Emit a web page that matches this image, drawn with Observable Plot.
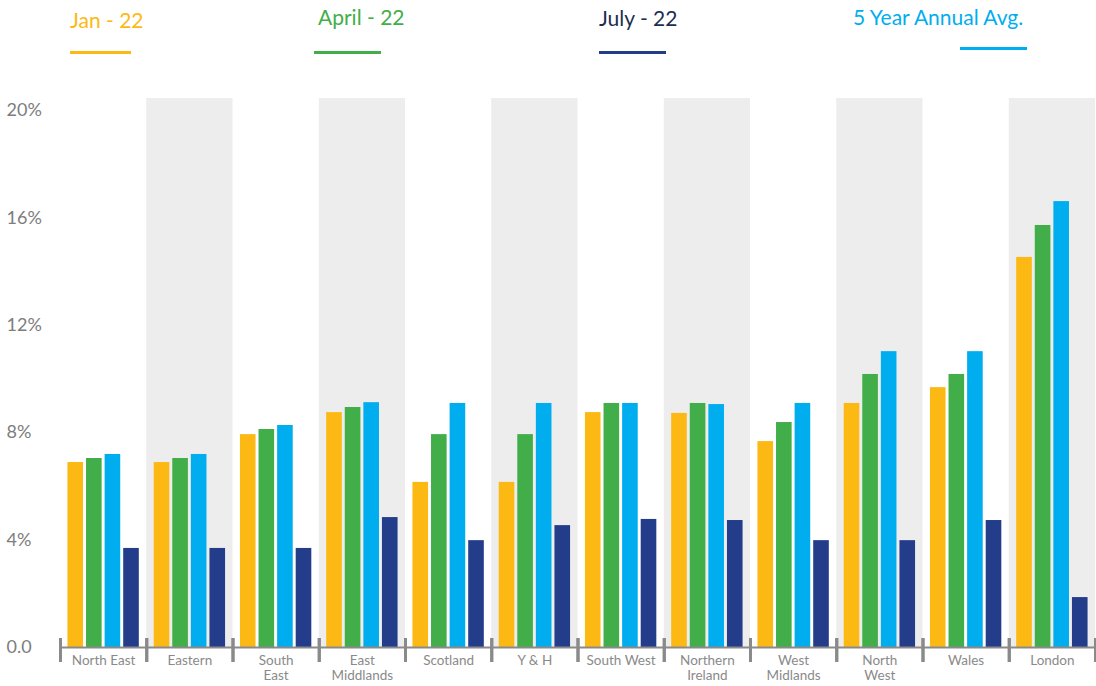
<!DOCTYPE html>
<html>
<head>
<meta charset="utf-8">
<script src="https://cdn.jsdelivr.net/npm/d3@7"></script>
<script src="https://cdn.jsdelivr.net/npm/@observablehq/plot@0.6"></script>
<style>
  html, body { margin: 0; padding: 0; background: #fff; }
  body { width: 1096px; height: 686px; position: relative; overflow: hidden; font-family: Lato, "Open Sans", sans-serif; }
  #legend { position: absolute; left: 0; top: 0; width: 1096px; height: 70px; }
  .lg-text { position: absolute; font-size: 21px; white-space: nowrap; line-height: 1; }
  .lg-line { position: absolute; height: 3px; }
  #chart { position: absolute; left: 0; top: 70px; }
</style>
</head>
<body>
<div id="legend"></div>
<div id="chart"></div>
<script>
// ---- data ----
const regions = ["North East", "Eastern", "South East", "East Midlands", "Scotland", "Y & H",
                 "South West", "Northern Ireland", "West Midlands", "North West", "Wales", "London"];
const regionLabels = ["North East", "Eastern", "South\nEast", "East\nMiddlands", "Scotland", "Y & H",
                      "South West", "Northern\nIreland", "West\nMidlands", "North\nWest", "Wales", "London"];
const shadedRegions = ["Eastern", "East Midlands", "Y & H", "Northern Ireland", "North West", "London"];

const seriesNames = ["Jan - 22", "April - 22", "5 Year Annual Avg.", "July - 22"];
const seriesColors = ["#FDB913", "#41AE49", "#00AEEF", "#243D8B"];
const legendTextColors = ["#FDB913", "#41AE49", "#00AEEF", "#1C2D52"];

const jan22 = [6.89, 6.89, 7.93, 8.75, 6.15, 6.15, 8.75, 8.72, 7.67, 9.09, 9.68, 14.53];
const apr22 = [7.04, 7.04, 8.12, 8.94, 7.93, 7.93, 9.09, 9.09, 8.38, 10.17, 10.17, 15.72];
const avg5y = [7.19, 7.19, 8.27, 9.12, 9.09, 9.09, 9.09, 9.05, 9.09, 11.02, 11.02, 16.61];
const jul22 = [3.69, 3.69, 3.69, 4.84, 3.98, 4.54, 4.77, 4.73, 3.98, 3.98, 4.73, 1.86];

const yTicks = [0, 4, 8, 12, 16, 20];
const yMax = 20.45;

// ---- build table ----
const seriesValues = [jan22, apr22, avg5y, jul22];
const data = [];
regions.forEach((r, i) => {
  seriesNames.forEach((s, j) => data.push({region: r, series: s, value: seriesValues[j][i]}));
});
const labelOf = Object.fromEntries(regions.map((r, i) => [r, regionLabels[i]]));

// ---- legend (HTML, above the SVG) ----
const legendPos = [
  {tx: 70, ty: 9, lx: 70, ly: 51, lw: 61},
  {tx: 318, ty: 6, lx: 314, ly: 51, lw: 67},
  {tx: 853, ty: 6, lx: 960, ly: 47, lw: 67},
  {tx: 599, ty: 7, lx: 599, ly: 51, lw: 67}
];
const legend = document.getElementById("legend");
seriesNames.forEach((s, j) => {
  const p = legendPos[j];
  const t = document.createElement("div");
  t.className = "lg-text";
  t.textContent = s;
  t.style.left = p.tx + "px";
  t.style.top = p.ty + "px";
  t.style.color = legendTextColors[j];
  legend.appendChild(t);
  const l = document.createElement("div");
  l.className = "lg-line";
  l.style.left = p.lx + "px";
  l.style.top = p.ly + "px";
  l.style.width = p.lw + "px";
  l.style.background = seriesColors[j];
  legend.appendChild(l);
});

// ---- chart ----
const axisGray = "#8a8a8a";
const chart = Plot.plot({
  width: 1096,
  height: 616,
  marginLeft: 60,
  marginRight: 1,
  marginTop: 28,
  marginBottom: 39,
  style: {fontFamily: "Lato, 'Open Sans', sans-serif", background: "transparent"},
  fx: {domain: regions, padding: 0, round: false, axis: null},
  x: {domain: seriesNames, paddingInner: 0.16, paddingOuter: 0.4, round: false, axis: null},
  y: {domain: [0, yMax], axis: null},
  color: {domain: seriesNames, range: seriesColors},
  marks: [
    Plot.rect(shadedRegions, {fx: d => d, y1: 0, y2: yMax, fill: "#ededed"}),
    Plot.barY(data, {fx: "region", x: "series", y: "value", fill: "series"}),
    Plot.ruleY([0], {stroke: axisGray, strokeWidth: 2}),
    Plot.frame({anchor: "left", stroke: axisGray, strokeWidth: 3, insetTop: 541, insetBottom: -13}),
    Plot.frame({anchor: "right", stroke: axisGray, strokeWidth: 3, insetTop: 541, insetBottom: -13}),
    Plot.axisY({ticks: yTicks, tickFormat: d => d === 0 ? "0.0" : d + "%", tickSize: 0, label: null,
                textAnchor: "start", dx: -45, fontSize: 18, fill: "#7d7d7d"}),
    Plot.text(regions, {fx: d => d, text: d => labelOf[d], frameAnchor: "bottom", lineAnchor: "top",
                        dy: 7, fontSize: 13.5, fill: axisGray, lineHeight: 1.12})
  ]
});
document.getElementById("chart").appendChild(chart);
</script>
</body>
</html>
